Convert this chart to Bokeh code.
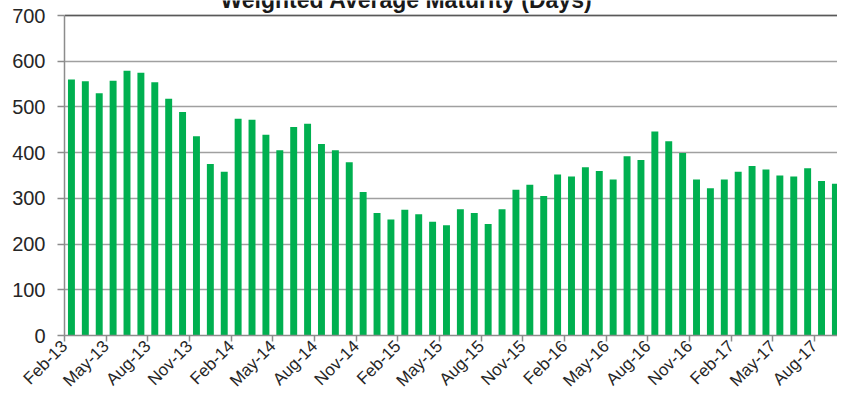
import math
from bokeh.plotting import figure
from bokeh.models import Range1d, FixedTicker
from bokeh.core.properties import value
from bokeh.embed import file_html
from bokeh.resources import INLINE

months = ["Feb-13", "Mar-13", "Apr-13", "May-13", "Jun-13", "Jul-13", "Aug-13", "Sep-13", "Oct-13", "Nov-13", "Dec-13", "Jan-14",
          "Feb-14", "Mar-14", "Apr-14", "May-14", "Jun-14", "Jul-14", "Aug-14", "Sep-14", "Oct-14", "Nov-14", "Dec-14", "Jan-15",
          "Feb-15", "Mar-15", "Apr-15", "May-15", "Jun-15", "Jul-15", "Aug-15", "Sep-15", "Oct-15", "Nov-15", "Dec-15", "Jan-16",
          "Feb-16", "Mar-16", "Apr-16", "May-16", "Jun-16", "Jul-16", "Aug-16", "Sep-16", "Oct-16", "Nov-16", "Dec-16", "Jan-17",
          "Feb-17", "Mar-17", "Apr-17", "May-17", "Jun-17", "Jul-17", "Aug-17", "Sep-17"]
wam_days = [560, 556, 530, 557, 579, 575, 554, 518, 489, 436, 375, 358,
            474, 472, 439, 405, 456, 463, 419, 405, 379, 314, 268, 254,
            275, 265, 249, 241, 276, 268, 244, 276, 319, 330, 305, 352,
            348, 368, 360, 341, 392, 384, 446, 425, 399, 341, 322, 341,
            358, 371, 363, 350, 348, 366, 338, 332]
tick_step = 3
y_ticks = [0, 100, 200, 300, 400, 500, 600, 700]
title_text = "Weighted Average Maturity (Days)"

FONT = "Liberation Sans"
GREEN = "#00b050"
GRID = "#a0a0a0"
AXIS = "#8c8c8c"

# layout (pixels)
FRAME_LEFT = 64
FRAME_W = 837 - FRAME_LEFT
PLOT_TOP_PX = 15          # where the 700 line sits
PLOT_H_PX = 320           # 0..700 span
X_END = 55.65
Y_MAX = 700
UNITS_PER_PX = Y_MAX / PLOT_H_PX
Y_TOP = Y_MAX + PLOT_TOP_PX * UNITS_PER_PX

p = figure(width=837, height=401, output_backend="svg", toolbar_location=None,
           x_range=Range1d(0, X_END), y_range=Range1d(0, Y_TOP),
           min_border_left=FRAME_LEFT, min_border_right=0, min_border_top=0, min_border_bottom=66)
p.outline_line_color = None
p.background_fill_color = "white"
p.border_fill_color = "white"

x_centers = [i + 0.5 for i in range(len(wam_days))]
p.vbar(x=x_centers, top=wam_days, bottom=0, width=0.5, fill_color=GREEN, line_color=None)

# y axis
p.yaxis.ticker = FixedTicker(ticks=y_ticks)
p.yaxis.bounds = (0, Y_MAX)
p.yaxis.axis_line_color = AXIS
p.yaxis.axis_line_width = 1.5
p.yaxis.major_tick_line_color = AXIS
p.yaxis.major_tick_line_width = 1.5
p.yaxis.major_tick_out = 7
p.yaxis.major_tick_in = 0
p.yaxis.minor_tick_line_color = None
p.yaxis.major_label_standoff = 12
p.yaxis.major_label_text_font = FONT
p.yaxis.major_label_text_font_size = "20px"
p.yaxis.major_label_text_color = "#262626"

# x axis: ticks at month boundaries, every third month labelled
xt = list(range(0, len(months), tick_step))
p.xaxis.ticker = FixedTicker(ticks=xt)
p.xaxis.major_label_overrides = {i: months[i] for i in xt}
p.xaxis.major_label_orientation = math.pi / 4
p.xaxis.axis_line_color = AXIS
p.xaxis.axis_line_width = 1.5
p.xaxis.major_tick_line_color = AXIS
p.xaxis.major_tick_line_width = 1.5
p.xaxis.major_tick_out = 6
p.xaxis.major_tick_in = 0
p.xaxis.minor_tick_line_color = None
p.xaxis.major_label_standoff = 2
p.xaxis.major_label_text_font = FONT
p.xaxis.major_label_text_font_size = "17px"
p.xaxis.major_label_text_color = "#262626"

p.xgrid.grid_line_color = None
p.ygrid.ticker = FixedTicker(ticks=y_ticks)
p.ygrid.grid_line_color = GRID
p.ygrid.grid_line_width = 1.5

# top border line at 700
p.line(x=[0, X_END], y=[Y_MAX, Y_MAX], line_color="#595959", line_width=1.5)

# title, partly cut off at the top as in the original
title_x = (406 - FRAME_LEFT) / FRAME_W * X_END
title_y = Y_MAX + 16 * UNITS_PER_PX
p.text(x=[title_x], y=[title_y], text=[title_text], text_font=value(FONT), text_font_style="bold",
       text_font_size="23px", text_color="#1a1a1a", text_align="center", text_baseline="alphabetic")

open("out.html", "w").write(file_html(p, INLINE))
